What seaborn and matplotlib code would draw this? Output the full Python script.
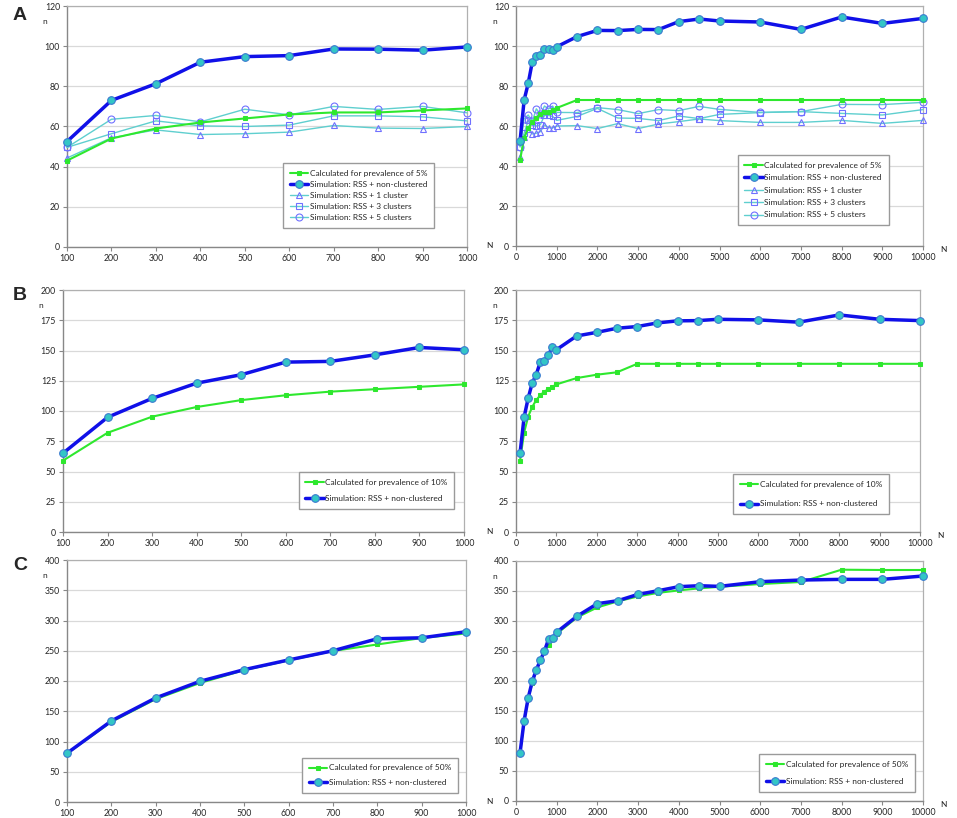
import numpy as np
import pandas as pd
import matplotlib
matplotlib.use("Agg")
import matplotlib.pyplot as plt
import seaborn as sns

# x values
N_small = [100, 200, 300, 400, 500, 600, 700, 800, 900, 1000]
N_large = N_small + [1500, 2000, 2500, 3000, 3500, 4000, 4500, 5000,
                     6000, 7000, 8000, 9000, 10000]

# panel A (prevalence 5%)
a_calc = [43, 54, 59, 62, 64, 66, 67, 67, 68, 69]
a_calc_ext = [73] * 13
a_sim = [52.5, 73, 81.3, 92, 94.8, 95.3, 98.6, 98.5, 98, 99.6]
a_sim_ext = [104.7, 107.8, 107.7, 108.3, 108.2, 112.2, 113.5, 112.5, 112, 108.3, 114.5, 111.3, 113.8]
a_c1 = [44.3, 54.4, 58.3, 56, 56.4, 57.2, 60.5, 59.2, 59, 60]
a_c1_ext = [60.2, 58.7, 61.2, 58.7, 61, 62.2, 63.5, 62.7, 61.8, 61.8, 62.8, 61.3, 62.8]
a_c3 = [49.6, 56.4, 62.8, 60.3, 60, 60.7, 65.3, 65.3, 64.8, 62.8]
a_c3_ext = [64.8, 68.8, 64, 63.8, 62.7, 65, 63.7, 65.8, 66.7, 67.2, 66.3, 65.5, 68.2]
a_c5 = [49.6, 63.6, 65.5, 62.3, 68.6, 65.8, 70, 68.5, 70, 66.8]
a_c5_ext = [66.7, 69.2, 68.2, 66.2, 68.2, 67.7, 69.8, 68.3, 66.8, 67.2, 70.8, 70.7, 71.8]

# panel B (prevalence 10%)
b_calc = [59, 82, 95.3, 103.3, 109, 113, 116, 118, 120, 122]
b_calc_ext = [127.2, 130, 132, 139, 139, 139, 139, 139, 139, 139, 139, 139, 139]
b_sim = [65.1, 94.8, 110.4, 123, 130, 140.4, 141, 146.4, 152.5, 150.6]
b_sim_ext = [162, 165, 168.4, 169.8, 172.8, 174.5, 174.7, 175.8, 175.3, 173.4, 179.4, 175.8, 174.7]

# panel C (prevalence 50%)
c_calc = [80, 132.4, 170, 196.7, 218, 234, 249.6, 260.4, 271, 278.6]
c_calc_ext = [306, 322.7, 332.7, 341, 347, 351, 354.4, 357, 361.6, 365, 385.5, 385, 385]
c_sim = [80.6, 134, 172, 199.5, 218.8, 234.8, 250, 269.8, 271.4, 281.4]
c_sim_ext = [308, 328.9, 333.8, 344.4, 350.6, 357.2, 358.8, 357.7, 365.5, 368.3, 369.4, 369.4, 375]

lbl_sim = "Simulation: RSS + non-clustered"
lbl_c1 = "Simulation: RSS + 1 cluster"
lbl_c3 = "Simulation: RSS + 3 clusters"
lbl_c5 = "Simulation: RSS + 5 clusters"

sns.set_style("white")
plt.rcParams['font.family'] = ['Lato', 'DejaVu Sans']

GREEN = "#2ee82e"
BLUE = "#1010e8"
CYAN = "#33c6c6"
LCYAN = "#5fcfcf"
PURP = "#7070ff"

fig = plt.figure(figsize=(9.57, 8.18), dpi=100)
W, H = 957, 818

def add_ax(x0, x1, ytop, ybot):
    return fig.add_axes([x0 / W, 1 - ybot / H, (x1 - x0) / W, (ybot - ytop) / H])

def green(ax, x, y, label):
    sns.lineplot(x=x, y=y, ax=ax, color=GREEN, lw=1.5, marker="s", markersize=3,
                 markeredgecolor=GREEN, markerfacecolor=GREEN, label=label,
                 clip_on=False, zorder=4)

def blue(ax, x, y):
    sns.lineplot(x=x, y=y, ax=ax, color=BLUE, lw=2.5, marker="o", markersize=5.5,
                 markerfacecolor=CYAN, markeredgecolor="#3a7ad0", markeredgewidth=0.8,
                 label=lbl_sim, clip_on=False, zorder=5)

def cluster(ax, x, y, mk, label):
    sns.lineplot(x=x, y=y, ax=ax, color=LCYAN, lw=1.0, marker=mk, markersize=5,
                 markerfacecolor="none", markeredgecolor=PURP, markeredgewidth=0.8,
                 label=label, clip_on=False, zorder=3)

def style(ax, xlim, xticks, ylim, yticks, big):
    ax.set_xlim(*xlim)
    ax.set_ylim(*ylim)
    ax.set_xticks(xticks)
    ax.set_yticks(yticks)
    ax.yaxis.grid(True, color="#d9d9d9", lw=0.9)
    ax.set_axisbelow(True)
    for s in ["top", "right"]:
        ax.spines[s].set_color("#b0b0b0")
        ax.spines[s].set_linewidth(0.9)
    for s in ["left", "bottom"]:
        ax.spines[s].set_color("#888888")
        ax.spines[s].set_linewidth(1.0)
    ax.tick_params(axis="both", labelsize=6.3, length=3, width=0.8,
                   color="#888888", pad=2, bottom=True, left=True)
    ax.set_xlabel("")
    ax.set_ylabel("")
    ax.text(-0.055 if not big else -0.052, 0.935, "n", transform=ax.transAxes,
            fontsize=6, ha="center", va="center")
    if big:
        ax.text(-0.065, 0.0, "N", transform=ax.transAxes, fontsize=6,
                ha="center", va="center")
        ax.text(1.05, -0.015, "N", transform=ax.transAxes, fontsize=6,
                ha="center", va="center")

def legend(ax, xa, ya, spacing):
    leg = ax.legend(loc="lower left", bbox_to_anchor=(xa, ya), fontsize=6.0,
                    frameon=True, fancybox=False, edgecolor="#9a9a9a",
                    framealpha=1, labelspacing=spacing, handlelength=2.2,
                    handletextpad=0.2, borderpad=0.8, borderaxespad=0)
    leg.set_zorder(10)

big_ticks = list(range(0, 10001, 1000))

# ---- A ----
ax = add_ax(67, 467, 6, 247)
green(ax, N_small, a_calc, "Calculated for prevalence of 5%")
blue(ax, N_small, a_sim)
cluster(ax, N_small, a_c1, "^", lbl_c1)
cluster(ax, N_small, a_c3, "s", lbl_c3)
cluster(ax, N_small, a_c5, "o", lbl_c5)
style(ax, (100, 1000), N_small, (0, 120), range(0, 121, 20), False)
legend(ax, 0.54, 0.079, 0.5)

ax = add_ax(516, 923, 6, 246)
green(ax, N_large, a_calc + a_calc_ext, "Calculated for prevalence of 5%")
blue(ax, N_large, a_sim + a_sim_ext)
cluster(ax, N_large, a_c1 + a_c1_ext, "^", lbl_c1)
cluster(ax, N_large, a_c3 + a_c3_ext, "s", lbl_c3)
cluster(ax, N_large, a_c5 + a_c5_ext, "o", lbl_c5)
style(ax, (0, 10000), big_ticks, (0, 120), range(0, 121, 20), True)
legend(ax, 0.545, 0.087, 0.65)

# ---- B ----
ax = add_ax(63, 464, 290, 532)
green(ax, N_small, b_calc, "Calculated for prevalence of 10%")
blue(ax, N_small, b_sim)
style(ax, (100, 1000), N_small, (0, 200), range(0, 201, 25), False)
legend(ax, 0.588, 0.095, 1.15)

ax = add_ax(516, 920, 290, 532)
green(ax, N_large, b_calc + b_calc_ext, "Calculated for prevalence of 10%")
blue(ax, N_large, b_sim + b_sim_ext)
style(ax, (0, 10000), big_ticks, (0, 200), range(0, 201, 25), True)
legend(ax, 0.537, 0.074, 1.5)

# ---- C ----
ax = add_ax(67, 466, 560, 802)
green(ax, N_small, c_calc, "Calculated for prevalence of 50%")
blue(ax, N_small, c_sim)
style(ax, (100, 1000), N_small, (0, 400), range(0, 401, 50), False)
legend(ax, 0.589, 0.037, 0.95)

ax = add_ax(516, 923, 561, 801)
green(ax, N_large, c_calc + c_calc_ext, "Calculated for prevalence of 50%")
blue(ax, N_large, c_sim + c_sim_ext)
style(ax, (0, 10000), big_ticks, (0, 400), range(0, 401, 50), True)
legend(ax, 0.597, 0.0375, 1.3)

for letter, y in [("A", 15), ("B", 295), ("C", 566)]:
    fig.text(20 / W, 1 - y / H, letter, fontsize=14, fontweight="bold",
             family="Liberation Sans", ha="center", va="center")

fig.savefig("out.png", dpi=100)
